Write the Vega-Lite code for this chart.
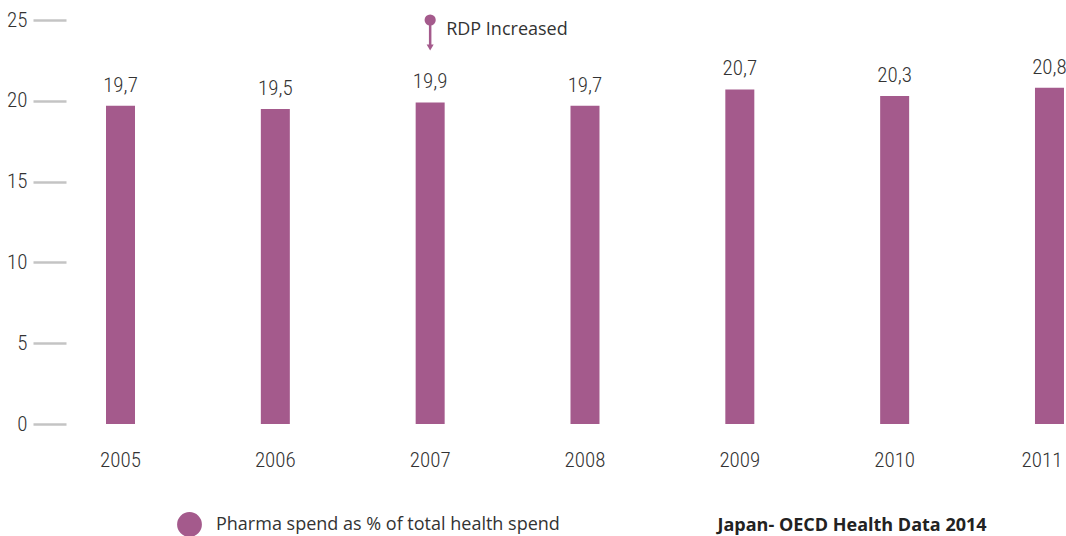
{
  "$schema": "https://vega.github.io/schema/vega-lite/v6.json",
  "width": 1000,
  "height": 404,
  "autosize": "none",
  "padding": {"left": 66, "top": 20, "right": 0, "bottom": 112},
  "background": "white",
  "config": {
    "view": {"stroke": null},
    "font": "Open Sans",
    "locale": {"number": {"decimal": ",", "thousands": ".", "grouping": [3], "currency": ["", " €"]}}
  },
  "data": {
    "values": [
      {"year": "2005", "value": 19.7, "series": "Pharma spend as % of total health spend"},
      {"year": "2006", "value": 19.5, "series": "Pharma spend as % of total health spend"},
      {"year": "2007", "value": 19.9, "series": "Pharma spend as % of total health spend"},
      {"year": "2008", "value": 19.7, "series": "Pharma spend as % of total health spend"},
      {"year": "2009", "value": 20.7, "series": "Pharma spend as % of total health spend"},
      {"year": "2010", "value": 20.3, "series": "Pharma spend as % of total health spend"},
      {"year": "2011", "value": 20.8, "series": "Pharma spend as % of total health spend"}
    ]
  },
  "layer": [
    {
      "mark": {"type": "bar"},
      "encoding": {
        "x": {
          "field": "year", "type": "nominal",
          "scale": {"paddingInner": 0.8127, "paddingOuter": 0.1357, "align": 0.952},
          "axis": {
            "labelAngle": 0, "domain": false, "ticks": false, "grid": false,
            "labelFont": "Roboto Condensed, Noto Sans Condensed, Liberation Sans Narrow, DejaVu Sans Condensed, sans-serif",
            "labelFontWeight": 300,
            "labelFontSize": 21, "labelColor": "#333333",
            "labelBaseline": "alphabetic", "labelPadding": 42,
            "labelFlush": 32, "labelFlushOffset": 13,
            "title": "Japan- OECD Health Data 2014",
            "titleX": 651, "titleY": 106, "titleAlign": "left", "titleAnchor": "start",
            "titleBaseline": "alphabetic", "titleFontSize": 18, "titleFontWeight": "bold",
            "titleColor": "#222222", "titleFont": "Open Sans"
          }
        },
        "y": {
          "field": "value", "type": "quantitative",
          "scale": {"domain": [0, 25], "nice": false},
          "axis": {
            "values": [0, 5, 10, 15, 20, 25], "domain": false, "grid": false,
            "tickSize": 33, "tickWidth": 2.5, "tickColor": "#c4c4c4",
            "labelPadding": 6,
            "labelFont": "Roboto Condensed, Noto Sans Condensed, Liberation Sans Narrow, DejaVu Sans Condensed, sans-serif",
            "labelFontWeight": 300,
            "labelFontSize": 21, "labelColor": "#333333", "title": null
          }
        },
        "color": {
          "field": "series", "type": "nominal",
          "scale": {"range": ["#a45a8c"]},
          "legend": {
            "orient": "none", "legendX": 111, "legendY": 492, "padding": 0,
            "title": null, "symbolType": "circle", "symbolSize": 616,
            "symbolStrokeWidth": 0, "symbolOpacity": 1, "labelOffset": 14,
            "labelFontSize": 18, "labelColor": "#333333", "labelFont": "Open Sans",
            "labelLimit": 500
          }
        }
      }
    },
    {
      "mark": {
        "type": "text", "dy": -14, "baseline": "alphabetic",
        "font": "Roboto Condensed, Noto Sans Condensed, Liberation Sans Narrow, DejaVu Sans Condensed, sans-serif",
        "fontWeight": 300,
        "fontSize": 21, "color": "#333333"
      },
      "encoding": {
        "x": {"field": "year", "type": "nominal"},
        "y": {"field": "value", "type": "quantitative"},
        "text": {"field": "value", "type": "quantitative", "format": ".1f"}
      }
    },
    {
      "data": {"values": [{}]},
      "mark": {"type": "rule", "color": "#a45a8c", "strokeWidth": 2.5},
      "encoding": {
        "x": {"datum": "2007", "type": "nominal"},
        "y": {"datum": 25, "type": "quantitative"},
        "y2": {"datum": 23.4}
      }
    },
    {
      "data": {"values": [{}]},
      "mark": {"type": "point", "shape": "circle", "filled": true, "color": "#a45a8c", "opacity": 1, "size": 125},
      "encoding": {
        "x": {"datum": "2007", "type": "nominal"},
        "y": {"datum": 25, "type": "quantitative"}
      }
    },
    {
      "data": {"values": [{}]},
      "mark": {"type": "point", "shape": "triangle-down", "filled": true, "color": "#a45a8c", "opacity": 1, "size": 50},
      "encoding": {
        "x": {"datum": "2007", "type": "nominal"},
        "y": {"datum": 23.3, "type": "quantitative"}
      }
    },
    {
      "data": {"values": [{}]},
      "mark": {
        "type": "text", "align": "left", "baseline": "alphabetic", "dx": 16, "dy": 15,
        "font": "Open Sans", "fontSize": 18, "color": "#333333", "text": "RDP Increased"
      },
      "encoding": {
        "x": {"datum": "2007", "type": "nominal"},
        "y": {"datum": 25, "type": "quantitative"}
      }
    }
  ]
}
